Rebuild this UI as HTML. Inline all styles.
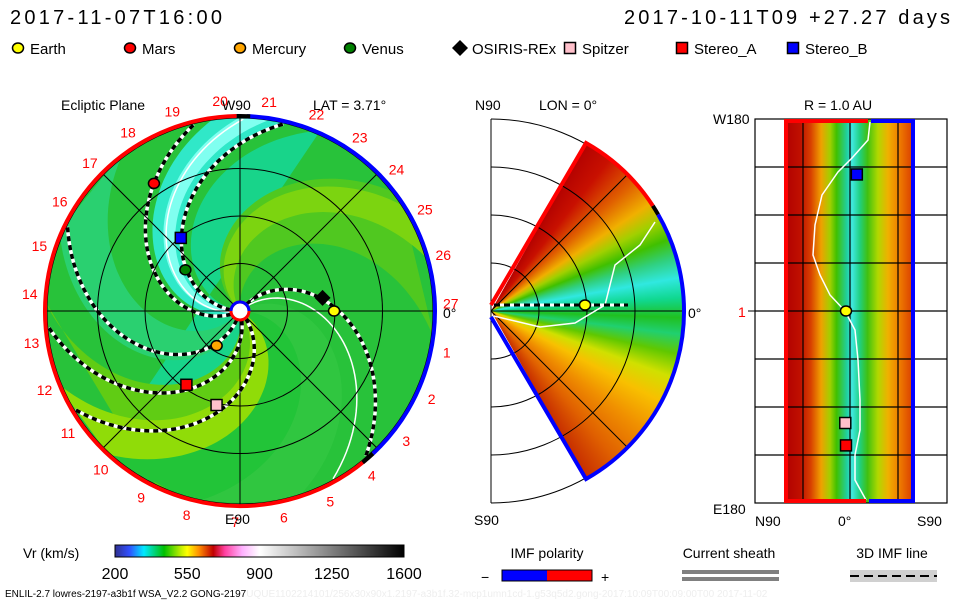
<!DOCTYPE html>
<html><head><meta charset="utf-8">
<style>
html,body{margin:0;padding:0;background:#fff;}
#wrap{position:relative;width:960px;height:600px;overflow:hidden;font-family:"Liberation Sans",sans-serif;}
#wedge{position:absolute;left:299px;top:119px;width:384px;height:384px;
 background:conic-gradient(from 0deg at 50% 50%, #b00000 0deg,#b00000 28deg,#c81000 38deg,#e06000 48deg,#f0b000 56deg,#a0d000 62deg,#40c000 68deg,#30d080 74deg,#30e8e0 80deg,#10d890 86deg,#20c020 92deg,#20d070 97deg,#60c800 103deg,#d0e000 110deg,#f8c000 118deg,#f09000 128deg,#e06000 140deg,#c83000 150deg,#c83000 360deg);}
#strip{position:absolute;left:785px;top:119px;width:129px;height:384px;
 background:linear-gradient(to right,#b00000 0%,#c01000 12%,#d84000 20%,#f0a000 28%,#a0d000 35%,#40c000 40%,#20d0a0 48%,#40e8e0 52%,#20d080 58%,#40c010 64%,#b0d800 72%,#f0b000 80%,#f08000 88%,#e05000 96%,#d04000 100%);}
svg{position:absolute;left:0;top:0;}
</style></head>
<body>
<div id="wrap">
<div id="wedge"></div>
<div id="strip"></div>
<svg id="svg" width="960" height="600" viewBox="0 0 960 600" xmlns="http://www.w3.org/2000/svg" font-family="Liberation Sans, sans-serif">
<defs>
<clipPath id="disk"><circle cx="240" cy="311" r="193"/></clipPath>
<linearGradient id="cbar" x1="0" x2="1" y1="0" y2="0">
<stop offset="0" stop-color="#303090"/><stop offset="0.05" stop-color="#3050ff"/><stop offset="0.1" stop-color="#00e8ff"/>
<stop offset="0.17" stop-color="#00c000"/><stop offset="0.23" stop-color="#c8f000"/><stop offset="0.25" stop-color="#ffff00"/>
<stop offset="0.29" stop-color="#ff9000"/><stop offset="0.34" stop-color="#c00000"/><stop offset="0.38" stop-color="#ff40a0"/>
<stop offset="0.44" stop-color="#ffb0ff"/><stop offset="0.5" stop-color="#ffffff"/><stop offset="1" stop-color="#000000"/>
</linearGradient>
</defs>
<g id="left"></g>
<g id="mid"></g>
<g id="right"></g>
<g id="legend"></g>

<text x="10" y="24" font-size="20" textLength="212">2017-11-07T16:00</text>
<text x="624" y="24" font-size="20" textLength="326">2017-10-11T09 +27.27 days</text>

<text x="61" y="110" font-size="14">Ecliptic Plane</text>
<text x="222" y="110" font-size="14">W90</text>
<text x="313" y="110" font-size="14">LAT = 3.71°</text>
<text x="225" y="524" font-size="14">E90</text>
<text x="443" y="318" font-size="14">0°</text>

<text x="475" y="110" font-size="14">N90</text>
<text x="539" y="110" font-size="14">LON = 0°</text>
<text x="474" y="525" font-size="14">S90</text>
<text x="688" y="318" font-size="14">0°</text>

<text x="804" y="110" font-size="14">R = 1.0 AU</text>
<text x="713" y="124" font-size="14">W180</text>
<text x="713" y="514" font-size="14">E180</text>
<text x="738" y="317" font-size="14" fill="#ff0000">1</text>
<text x="755" y="526" font-size="14">N90</text>
<text x="838" y="526" font-size="14">0°</text>
<text x="917" y="526" font-size="14">S90</text>

<g>
<text x="23" y="558" font-size="14">Vr (km/s)</text>
<rect x="115" y="545" width="289" height="12" fill="url(#cbar)" stroke="#000" stroke-width="1"/>
</g>
<text x="5" y="597" font-size="10">ENLIL-2.7 lowres-2197-a3b1f WSA_V2.2 GONG-2197<tspan fill="#eeeeee">UQUE1102214101/256x30x90x1.2197-a3b1f.32-mcp1umn1cd-1.g53q5d2.gong-2017:10:09T00:09:00T00    2017-11-02</tspan></text>

<g>
<text x="547" y="558" font-size="14" text-anchor="middle">IMF polarity</text>
<text x="481" y="582" font-size="14">−</text>
<rect x="502" y="570" width="45" height="11" fill="#0000ff"/><rect x="547" y="570" width="45" height="11" fill="#ff0000"/>
<rect x="502" y="570" width="90" height="11" fill="none" stroke="#000"/>
<text x="601" y="582" font-size="14">+</text>
</g>
<g>
<text x="729" y="558" font-size="14" text-anchor="middle">Current sheath</text>
<rect x="682" y="570" width="97" height="4" fill="#808080"/><rect x="682" y="577" width="97" height="4" fill="#808080"/>
</g>
<g>
<text x="892" y="558" font-size="14" text-anchor="middle">3D IMF line</text>
<rect x="850" y="570" width="87" height="12" fill="#d0d0d0"/>
<line x1="850" y1="576" x2="937" y2="576" stroke="#000" stroke-width="2" stroke-dasharray="9,5"/>
</g>
</svg>
</div>
<script>
// ---- data ----
const bodyNames = ['Earth','Mars','Mercury','Venus','OSIRIS-REx','Spitzer','Stereo_A','Stereo_B'];
const bodyColors = ['#ffff00','#ff0000','#ffa500','#008000','#000000','#ffc0cb','#ff0000','#0000ff'];
const bodyShapes = ['circle','circle','circle','circle','diamond','square','square','square'];
const bodyRadiusAU = [0.99, 1.62, 0.44, 0.72, 0.88, 1.02, 0.96, 0.99];
const bodyLonDeg = [0, 124, 236, 143, 9, 256, 234, 129];
const legendX = [18, 130, 240, 350, 460, 570, 682, 793];
const spiralPhi0 = [52, 178, 205, 255, 286, 312];
const sectorPhi0 = [40, 190];
const carringtonLabels = [1,2,3,4,5,6,7,8,9,10,11,12,13,14,15,16,17,18,19,20,21,22,23,24,25,26,27];
const radialRingsAU = [0.5, 1, 1.5, 2];
// right panel: body positions (lat deg, lon deg)
const rpBodies = ['Stereo_B','Earth','Spitzer','Stereo_A'];
const rpLat = [-15, 0, 1, 0];
const rpLon = [-128, 0, 105, 126];

const NS='http://www.w3.org/2000/svg';
function mk(parent, tag, attrs){const e=document.createElementNS(NS,tag);for(const k in attrs)e.setAttribute(k,attrs[k]);parent.appendChild(e);return e;}
const CX=240, CY=311, S=95, K=50;
function xy(r,deg){const a=deg*Math.PI/180;return [CX+S*r*Math.cos(a), CY-S*r*Math.sin(a)];}
function spiralPts(phi0, r0, r1){const p=[];for(let r=r0;r<=r1+1e-9;r+=0.04){p.push(xy(r,phi0-K*r));}return p;}
function region(phiA, phiB){
  const a=spiralPts(phiA,0,2.1), b=spiralPts(phiB,0,2.1).reverse();
  return a.concat(b).map(p=>p[0].toFixed(1)+','+p[1].toFixed(1)).join(' ');
}
// wedge clip (smooth arc)
(function(){const pts=['50% 50%'];for(let d=60.5;d>=-60.5;d-=1){const a=d*Math.PI/180;pts.push((50+50*Math.cos(a)).toFixed(2)+'% '+(50-50*Math.sin(a)).toFixed(2)+'%');}
document.getElementById('wedge').style.clipPath='polygon('+pts.join(',')+')';})();

const L=document.getElementById('left');
const bg=mk(L,'g',{'clip-path':'url(#disk)'});


mk(bg,'circle',{cx:CX,cy:CY,r:193,fill:'#28c23a'});
const bands=[[170,330,'#18d48a'],[178,200,'#30e8c8'],[183,192,'#80fff0'],[95,140,'#50c820'],[118,135,'#7cd410'],[-80,-10,'#60cc14'],[-55,-25,'#90dc08'],[330,360,'#22c438'],[230,260,'#2ad070'],[0,30,'#30c640']];
bands.forEach(b=>mk(bg,'polygon',{points:region(b[0],b[1]),fill:b[2]}));
const grid=mk(L,'g',{stroke:'#000','stroke-width':1,fill:'none'});


radialRingsAU.forEach(r=>mk(grid,'circle',{cx:CX,cy:CY,r:S*r*(r===2?193/190:1)}));
[0,45,90,135].forEach(d=>{const p=xy(2.03,d),q=xy(2.03,d+180);mk(grid,'line',{x1:p[0],y1:p[1],x2:q[0],y2:q[1]});});
sectorPhi0.forEach(p=>{const pts=spiralPts(p,0.1,2.05);const e=mk(bg,'polyline',{points:pts.map(q=>q.join(',')).join(' '),fill:'none',stroke:'#fff','stroke-width':1.5});

});
spiralPhi0.forEach(p=>{const pts=spiralPts(p,0.1,2.05).map(q=>q.join(',')).join(' ');
const g=mk(bg,'g',{});


mk(g,'polyline',{points:pts,fill:'none',stroke:'#fff','stroke-width':3.5});
mk(g,'polyline',{points:pts,fill:'none',stroke:'#000','stroke-width':3.5,'stroke-dasharray':'5,4'});});
function arc(r,a0,a1){const p=xy(r/S,a0),q=xy(r/S,a1);const large=Math.abs(a1-a0)>180?1:0;return `M${p[0]},${p[1]} A${r},${r} 0 ${large} 0 ${q[0]},${q[1]}`;}
let e=mk(L,'path',{d:arc(195,91,310),stroke:'#ff0000','stroke-width':4,fill:'none'});


e=mk(L,'path',{d:arc(195,-47,88),stroke:'#0000ff','stroke-width':4,fill:'none'});


mk(L,'path',{d:arc(195,87,91),stroke:'#000','stroke-width':4,fill:'none'});
mk(L,'path',{d:arc(195,-51,-47),stroke:'#000','stroke-width':4,fill:'none'});
mk(L,'circle',{cx:CX,cy:CY,r:9,fill:'#fff',stroke:'#ff0000','stroke-width':3});
mk(L,'path',{d:`M${CX-9},${CY} A9,9 0 0 1 ${CX+9},${CY}`,fill:'none',stroke:'#0000ff','stroke-width':3});
carringtonLabels.forEach((k,i)=>{const d=2-13.33*k;const p=xy(2.22,d);const t=mk(L,'text',{x:p[0],y:p[1]+5,'font-size':14,fill:'#ff0000','text-anchor':'middle'});t.textContent=k;

});
function marker(g,shape,x,y,color){
  if(shape==='circle') return mk(g,'ellipse',{cx:x,cy:y,rx:5.5,ry:5,fill:color,stroke:'#000','stroke-width':1.5});
  if(shape==='square') return mk(g,'rect',{x:x-5.5,y:y-5.5,width:11,height:11,fill:color,stroke:'#000','stroke-width':1.5});
  return mk(g,'polygon',{points:`${x},${y-8} ${x+8},${y} ${x},${y+8} ${x-8},${y}`,fill:color});
}
bodyNames.forEach((n,i)=>{const p=xy(bodyRadiusAU[i],bodyLonDeg[i]);const m=marker(L,bodyShapes[i],p[0],p[1],bodyColors[i]);

});
const LG=document.getElementById('legend');
bodyNames.forEach((n,i)=>{const m=marker(LG,bodyShapes[i],legendX[i],48,bodyColors[i]);


const t=mk(LG,'text',{x:legendX[i]+12,y:54,'font-size':15});t.textContent=n;

});

// ---- middle panel ----
const M=document.getElementById('mid');const MX=491,MY=311;
function mxy(r,d){const a=d*Math.PI/180;return [MX+r*Math.cos(a),MY-r*Math.sin(a)];}
const mg=mk(M,'g',{stroke:'#000','stroke-width':1,fill:'none'});
mk(mg,'line',{x1:MX,y1:119,x2:MX,y2:503});
[48,96,144,192].forEach(r=>{const a=mxy(r,90),b=mxy(r,-90);mk(mg,'path',{d:`M${a[0]},${a[1]} A${r},${r} 0 0 1 ${b[0]},${b[1]}`});});
[45,0,-45].forEach(d=>{const p=mxy(192,d);mk(mg,'line',{x1:MX,y1:MY,x2:p[0],y2:p[1]});});
mk(M,'polyline',{points:'494,316 540,327 575,323 605,305 615,265 640,245 655,222',fill:'none',stroke:'#fff','stroke-width':1.5});
let w1=mxy(193,60.5),w2=mxy(193,33),w3=mxy(193,30),w4=mxy(193,-60.5);
mk(M,'path',{d:`M${MX},${MY-6} L${w1[0]},${w1[1]} A193,193 0 0 1 ${w2[0]},${w2[1]}`,fill:'none',stroke:'#ff0000','stroke-width':4});
mk(M,'path',{d:`M${w2[0]},${w2[1]} A193,193 0 0 1 ${w3[0]},${w3[1]}`,fill:'none',stroke:'#000','stroke-width':4});
mk(M,'path',{d:`M${w3[0]},${w3[1]} A193,193 0 0 1 ${w4[0]},${w4[1]} L${MX},${MY+6}`,fill:'none',stroke:'#0000ff','stroke-width':4});
mk(M,'line',{x1:MX+3,y1:305,x2:628,y2:305,stroke:'#fff','stroke-width':3});
mk(M,'line',{x1:MX+3,y1:305,x2:628,y2:305,stroke:'#000','stroke-width':3,'stroke-dasharray':'6,4'});
const em=marker(M,'circle',585,305,'#ffff00');



// ---- right panel ----
const R=document.getElementById('right');
const RX0=755,RX1=947,RY0=119,RY1=503;
function rX(lat){return 846-lat*(65/90);}
function rY(lon){return 311+lon*(192/180);}
const rg=mk(R,'g',{stroke:'#000','stroke-width':1.2,fill:'none'});
mk(rg,'rect',{x:RX0,y:RY0,width:RX1-RX0,height:RY1-RY0});
[803,850,898].forEach(x=>mk(rg,'line',{x1:x,y1:RY0,x2:x,y2:RY1}));
for(let i=1;i<8;i++){const y=RY0+48*i;mk(rg,'line',{x1:RX0,y1:y,x2:RX1,y2:y});}
mk(R,'line',{x1:748,y1:311,x2:RX0,y2:311,stroke:'#000'});
mk(R,'polyline',{points:'870,122 868,140 852,158 838,172 822,195 815,225 813,255 820,275 830,295 845,311 855,330 858,360 860,400 860,430 855,455 855,480 866,500',fill:'none',stroke:'#fff','stroke-width':1.5});
mk(R,'line',{x1:786,y1:119,x2:786,y2:503,stroke:'#ff0000','stroke-width':4});
mk(R,'line',{x1:913,y1:119,x2:913,y2:503,stroke:'#0000ff','stroke-width':4});
mk(R,'line',{x1:786,y1:121,x2:868,y2:121,stroke:'#ff0000','stroke-width':4});
mk(R,'line',{x1:871,y1:121,x2:913,y2:121,stroke:'#0000ff','stroke-width':4});
mk(R,'line',{x1:786,y1:501,x2:866,y2:501,stroke:'#ff0000','stroke-width':4});
mk(R,'line',{x1:869,y1:501,x2:913,y2:501,stroke:'#0000ff','stroke-width':4});
rpBodies.forEach((n,i)=>{const k=bodyNames.indexOf(n);const m=marker(R,bodyShapes[k],rX(rpLat[i]),rY(rpLon[i]),bodyColors[k]);

});

const cbVals=[200,550,900,1250,1600];
const svg=document.getElementById('svg');
cbVals.forEach(v=>{const x=115+(v-200)/1400*289;const t=mk(svg,'text',{x:x,y:579,'font-size':16,'text-anchor':'middle'});t.textContent=v;

});
</script>
</body></html>
